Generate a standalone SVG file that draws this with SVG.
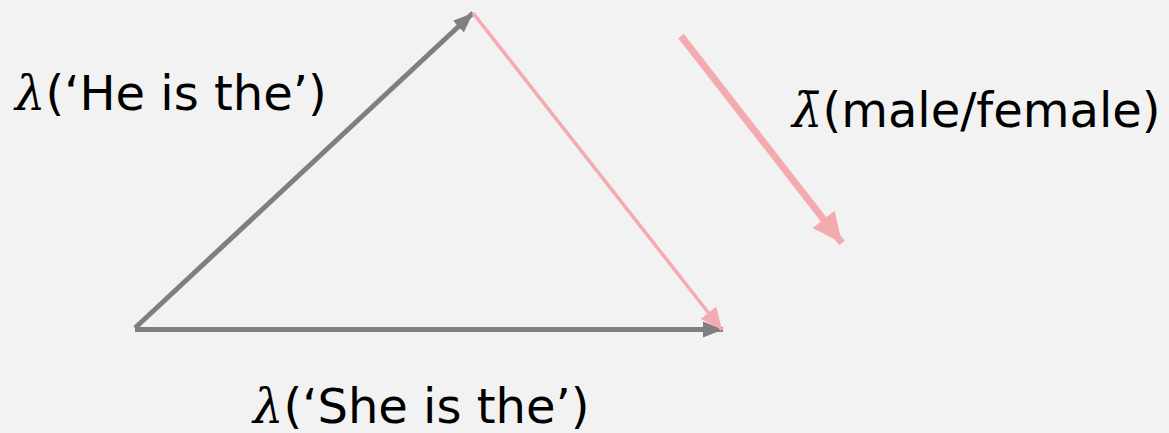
<svg xmlns="http://www.w3.org/2000/svg" width="1169" height="433" viewBox="0 0 1169 433">
<style>
.lbl{font-family:"DejaVu Sans",Verdana,sans-serif;font-size:48px;fill:#000}
.lam{font-family:"DejaVu Serif","Liberation Serif",serif;font-style:italic}
.gray{stroke:#7f7f7f;stroke-width:5;fill:none}
.pink{stroke:#f4abb0;stroke-width:3.5;fill:none}
.pinkb{stroke:#f4abb0;stroke-width:7;fill:none}
</style>
<defs>
<marker id="ag" markerUnits="userSpaceOnUse" markerWidth="22" markerHeight="18" refX="20" refY="9" orient="auto"><path d="M0,1 L20,9 L0,17 Z" fill="#7f7f7f"/></marker>
<marker id="ap" markerUnits="userSpaceOnUse" markerWidth="24" markerHeight="20" refX="22" refY="10" orient="auto"><path d="M0,0 L22,10 L0,20 Z" fill="#f4abb0"/></marker>
<marker id="apb" markerUnits="userSpaceOnUse" markerWidth="32" markerHeight="30" refX="30" refY="15" orient="auto"><path d="M0,1 L30,15 L0,29 Z" fill="#f4abb0"/></marker>
</defs>
<rect width="1169" height="433" fill="#f2f2f2"/>
<g id="connectors">
<line class="gray" x1="135" y1="328" x2="473" y2="13" marker-end="url(#ag)"/>
<line class="gray" x1="135" y1="329.5" x2="723" y2="329.5" marker-end="url(#ag)"/>
<line class="pink" x1="473" y1="13" x2="722" y2="330" marker-end="url(#ap)"/>
<line class="pinkb" x1="681" y1="36" x2="842" y2="243" marker-end="url(#apb)"/>
</g>
<g id="label-he"><text class="lbl" x="15" y="110"><tspan class="lam">λ</tspan>(‘He is the’)</text></g>
<g id="label-mf"><text class="lbl" x="792" y="127"><tspan class="lam">λ̄</tspan>(male/female)</text></g>
<g id="label-she"><text class="lbl" x="253" y="423"><tspan class="lam">λ</tspan>(‘She is the’)</text></g>
</svg>
